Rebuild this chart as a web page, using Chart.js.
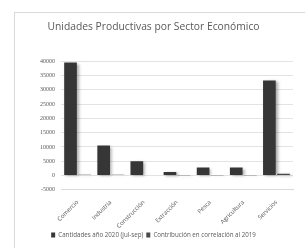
<!DOCTYPE html>
<html>
<head>
<meta charset="utf-8">
<script src="https://cdn.jsdelivr.net/npm/chart.js@4.4.0/dist/chart.umd.min.js"></script>
<style>
  html, body { margin: 0; padding: 0; background: #fff; }
  body { width: 305px; height: 248px; position: relative; overflow: hidden; }
  #frame { position: absolute; left: 14px; top: 12px; width: 300px; height: 250px; border: 1px solid #d9d9d9; box-sizing: border-box; }
  #wrap { position: absolute; left: 14px; top: 12px; width: 291px; height: 236px; }
</style>
</head>
<body>
<div id="frame"></div>
<div id="wrap"><canvas id="chart"></canvas></div>
<script>
// --- Data ---
const sectors = ['Comercio', 'Industria', 'Construcción', 'Extracción', 'Pesca', 'Agricultura', 'Servicios'];
const cantidades2020 = [39600, 10500, 5000, 1200, 2800, 2800, 33300];
const contribucion2019 = [300, 250, 150, 100, 120, 120, 600];
const seriesNames = ['Cantidades año 2020 (jul-sep)', 'Contribución en correlación al 2019'];
const yTicks = [-5000, 0, 5000, 10000, 15000, 20000, 25000, 30000, 35000, 40000];

// soft drop shadow under the bars
const barShadow = {
    id: 'barShadow',
    beforeDatasetsDraw(chart) {
        const ctx = chart.ctx;
        ctx.save();
        ctx.shadowColor = 'rgba(0,0,0,0.35)';
        ctx.shadowBlur = 3;
        ctx.shadowOffsetX = 2;
        ctx.shadowOffsetY = 1;
    },
    afterDatasetsDraw(chart) {
        chart.ctx.restore();
    }
};

const ctx = document.getElementById('chart').getContext('2d');
new Chart(ctx, {
    type: 'bar',
    data: {
        labels: sectors,
        datasets: [
            { label: seriesNames[0], data: cantidades2020, backgroundColor: '#363636' },
            { label: seriesNames[1], data: contribucion2019, backgroundColor: '#4a4a4a' }
        ]
    },
    options: {
        responsive: true,
        maintainAspectRatio: false,
        animation: false,
        layout: { padding: { left: 0, right: 12, top: 4, bottom: 0 } },
        datasets: { bar: { categoryPercentage: 0.85, barPercentage: 0.9 } },
        plugins: {
            title: {
                display: true,
                text: 'Unidades Productivas por Sector Económico',
                color: '#595959',
                font: { family: 'Open Sans', size: 10.3, weight: 'normal' },
                padding: { top: 5, bottom: 28 }
            },
            legend: {
                position: 'bottom',
                labels: {
                    boxWidth: 4,
                    boxHeight: 5,
                    padding: 3,
                    color: '#595959',
                    font: { family: 'Open Sans', size: 6.2 }
                }
            },
            tooltip: { enabled: false }
        },
        scales: {
            x: {
                grid: { display: false },
                border: { color: '#d9d9d9' },
                ticks: {
                    minRotation: 45,
                    maxRotation: 45,
                    autoSkip: false,
                    color: '#595959',
                    font: { family: 'Open Sans', size: 6 },
                    padding: 1
                },
                afterFit(axis) { axis.height = 39; }
            },
            y: {
                min: -5000,
                max: 40000,
                afterBuildTicks(axis) { axis.ticks = yTicks.map(v => ({ value: v })); },
                grid: { color: '#e3e3e3', drawTicks: false },
                border: { display: false },
                ticks: {
                    color: '#595959',
                    font: { family: 'Liberation Serif', size: 6 },
                    padding: 6,
                    callback: value => String(value)
                },
                afterFit(axis) { axis.width = 47; }
            }
        }
    },
    plugins: [barShadow]
});
</script>
</body>
</html>
